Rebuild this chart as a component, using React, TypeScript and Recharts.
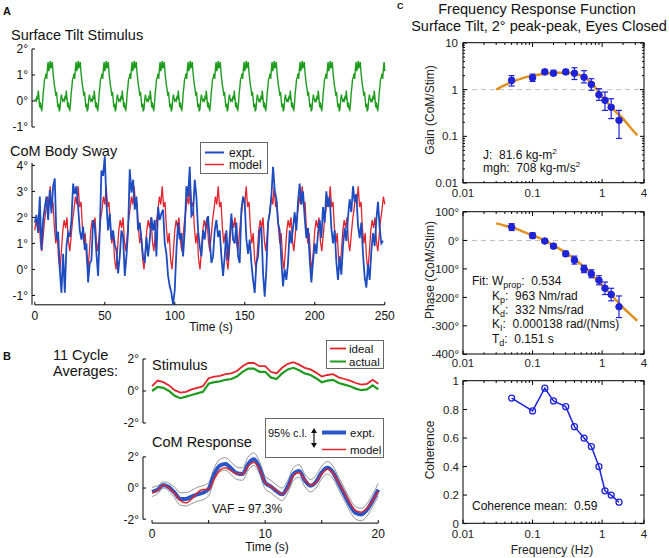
import React from 'react'
import { ComposedChart, Line, XAxis, YAxis, ReferenceLine, ErrorBar } from 'recharts'

const FONT = '"Liberation Sans", Arial, Helvetica, sans-serif'
const GREEN = '#1f9c1f'
const SWAY_BLUE = '#1d4cc0'
const RED = '#e3242b'
const PT_BLUE = '#1e22d8'
const ORANGE = '#e0901f'

// ---------- A: surface tilt stimulus, one 20 s cycle (deg, 0.5 s steps), repeats through 250 s
const STIM_STEP = 0.5
const STIM_END = 250
const STIM_CYCLE = [
  0.0, 0.05, 0.0, 0.15, 0.1, 0.4, 0.1, -0.25, -0.05, -0.3,
  -0.35, -0.1, 0.3, 0.55, 0.85, 0.9, 1.05, 0.85, 1.25, 1.5,
  1.15, 1.3, 1.55, 1.25, 1.4, 1.5, 1.1, 0.85, 0.6, 0.45,
  0.2, 0.35, 0.05, -0.25, -0.1, -0.4, -0.3, 0.05, 0.25, 0.1,
]
const STIM_TICKS_Y = [-1, 0, 1, 2]

// ---------- A: CoM body sway (deg)
const SWAY_STEP = 1.19
const SWAY_EXPT = [
  1.8, 2.1, 1.4, 2.8, 0.75, 1.9, 2.4, 2.8, 1.9, 3.05,
  2.15, 3.2, 3.5, 1.15, 1.45, 0.0, -0.9, 0.6, -0.9, 0.9,
  1.4, 1.25, 1.9, 3.3, 2.9, 3.2, 2.4, 1.5, 1.15, 1.65,
  0.75, 1.0, -0.5, 0.25, 0.35, 1.9, 1.65, 0.6, -0.25, 1.5,
  3.8, 3.6, 4.35, 2.55, 1.5, 2.15, 1.15, 1.5, 0.95, 0.75,
  -0.15, 0.5, 1.5, 1.25, -0.25, 0.5, 1.5, 3.85, 2.95, 3.45,
  2.3, 2.8, 1.5, 1.8, 1.15, 0.5, 0.25, 1.25, 0.5, 1.15,
  2.0, 1.5, 1.9, 0.5, 2.4, 1.9, 2.15, 2.3, 1.0, 0.6,
  -0.25, -0.65, -0.9, -1.35, -0.8, 0.75, 1.8, 1.15, 1.4, 0.5,
  1.5, 3.2, 2.8, 3.95, 2.05, 2.15, 3.45, 2.8, 1.5, 0.9,
  0.5, 1.5, 1.15, 1.8, 2.05, 1.15, 0.25, 0.5, 1.5, 1.9,
  1.25, 1.5, 0.5, -0.25, 0.5, 1.5, 0.35, 1.25, 2.15, 1.15,
  1.0, 1.8, 0.5, 0.25, 2.3, 2.8, 2.55, 1.15, 0.6, 1.15,
  0.25, -0.4, -0.9, 0.25, 0.5, 1.5, 1.65, -0.15, -1.05, 0.0,
  1.8, 2.15, 2.8, 3.95, 3.05, 2.7, 1.8, 1.5, 0.35, -0.65,
  0.0, -0.4, 0.25, 1.5, 1.0, 1.6, 2.2, 1.5, 2.6, 3.3,
  2.5, 3.0, 2.0, 1.2, 1.6, 0.4, -0.5, 0.3, 1.0, 0.6,
  1.4, 1.9, 1.2, 2.4, 1.8, 3.0, 2.4, 2.8, 1.6, 1.0,
  1.5, 0.3, -0.4, 0.5, -0.2, 0.9, 1.6, 1.1, 2.0, 2.7,
  2.2, 3.2, 2.6, 2.9, 1.7, 1.2, 1.8, 0.6, -0.3, -0.7,
  0.2, -0.4, 0.7, 1.4, 0.9, 1.9, 2.6, 1.6, 1.0, 1.1,
]
// model response to the periodic stimulus, one 20 s cycle at 1 s
const MODEL_STEP = 1
const MODEL_CYCLE = [1.5, 1.9, 1.6, 2.0, 1.1, 0.7, 1.3, 1.9, 2.3, 2.8, 2.5, 3.2, 2.4, 2.6, 1.6, 1.0, 1.4, 0.4, 0.0, 0.7]
const SWAY_TICKS_X = [0, 50, 100, 150, 200, 250]
const SWAY_TICKS_Y = [-1, 0, 1, 2, 3, 4]

// ---------- B: 11 cycle averages (0.5 s steps over 20 s)
const AVG_STEP = 0.5
const AVG_STIM_IDEAL = [
  0.3, 0.65, 0.55, 0.35, 0.05, -0.1, -0.05, 0.1, 0.2, 0.3,
  0.8, 0.9, 0.95, 1.05, 1.1, 1.25, 1.55, 1.75, 1.75, 1.55,
  1.55, 1.2, 1.1, 1.45, 1.7, 1.8, 1.65, 1.45, 1.35, 1.15,
  0.9, 1.0, 1.05, 0.85, 0.75, 0.65, 0.5, 0.4, 0.45, 0.7, 0.45,
]
const AVG_STIM_ACTUAL = [
  0.0, 0.25, 0.2, 0.0, -0.3, -0.45, -0.35, -0.25, -0.15, -0.05,
  0.45, 0.55, 0.6, 0.7, 0.75, 0.9, 1.2, 1.4, 1.4, 1.2,
  1.2, 0.85, 0.75, 1.1, 1.35, 1.45, 1.3, 1.1, 1.0, 0.8,
  0.55, 0.65, 0.7, 0.5, 0.4, 0.3, 0.15, 0.05, 0.1, 0.35, 0.1,
]
const AVG_COM_EXPT = [
  -0.25, -0.1, 0.2, 0.05, -0.3, -0.7, -0.7, -0.55, -0.4, -0.3,
  -0.05, 0.9, 1.45, 1.55, 1.25, 0.95, 0.9, 1.55, 1.85, 1.3,
  0.35, 0.1, -0.2, -0.4, 0.1, 0.9, 1.1, 0.5, 0.15, 0.4,
  1.0, 1.3, 1.0, 0.3, -0.4, -1.1, -1.6, -1.7, -1.4, -0.8, -0.1,
]
const AVG_COM_MODEL = [
  -0.3, -0.15, 0.2, 0.0, -0.35, -0.8, -0.95, -0.7, -0.3, -0.1,
  -0.1, 0.6, 1.15, 1.3, 1.1, 0.9, 0.9, 1.4, 1.65, 1.2,
  0.35, 0.1, -0.15, -0.4, 0.0, 0.8, 1.0, 0.55, 0.2, 0.35,
  0.9, 1.2, 0.95, 0.35, -0.3, -0.95, -1.45, -1.55, -1.3, -0.8, -0.2,
]
const AVG_COM_UPPER = [
  0.05, 0.15, 0.4, 0.3, 0.05, -0.3, -0.3, -0.15, 0.05, 0.15,
  0.35, 1.3, 1.85, 1.95, 1.65, 1.35, 1.3, 2.0, 2.25, 1.7,
  0.75, 0.5, 0.2, 0.0, 0.5, 1.3, 1.5, 0.9, 0.55, 0.8,
  1.4, 1.7, 1.4, 0.7, 0.0, -0.7, -1.2, -1.3, -1.0, -0.4, 0.3,
]
const AVG_COM_LOWER = [
  -0.55, -0.35, 0.0, -0.2, -0.65, -1.1, -1.15, -1.0, -0.85, -0.75,
  -0.5, 0.5, 1.05, 1.15, 0.85, 0.55, 0.5, 1.15, 1.45, 0.9,
  -0.05, -0.3, -0.6, -0.8, -0.3, 0.5, 0.7, 0.1, -0.25, 0.0,
  0.6, 0.9, 0.6, -0.1, -0.8, -1.5, -2.0, -2.1, -1.8, -1.2, -0.5,
]
const AVG_TICKS_Y = [-2, 0, 2]
const AVG_TICKS_X = [0, 5, 10, 15, 20]
const AVG_LABELLED_X = [0, 10, 20]

// ---------- C: frequency response function
const FREQS = [0.05, 0.1, 0.15, 0.2, 0.3, 0.4, 0.55, 0.7, 0.9, 1.1, 1.35, 1.75]
const GAIN = [1.58, 1.8, 2.4, 2.25, 2.4, 2.25, 1.85, 1.3, 0.78, 0.59, 0.42, 0.22]
const GAIN_LO = [1.2, 1.5, 2.2, 2.05, 2.15, 1.65, 1.4, 0.97, 0.59, 0.36, 0.24, 0.09]
const GAIN_HI = [2.0, 2.15, 2.7, 2.6, 2.7, 2.95, 2.55, 1.72, 1.05, 0.89, 0.64, 0.36]
const PHASE = [47, 17, -2, -20, -47, -69, -100, -117, -140, -168, -190, -233]
const PHASE_ERR = [12, 10, 6, 8, 9, 14, 13, 14, 16, 22, 22, 38]
const COHERENCE = [0.88, 0.79, 0.95, 0.86, 0.82, 0.68, 0.6, 0.54, 0.4, 0.23, 0.2, 0.15]
const FIT_FREQS = [0.03, 0.04, 0.05, 0.07, 0.1, 0.15, 0.2, 0.3, 0.4, 0.5, 0.6, 0.7, 0.8, 1.0, 1.2, 1.5, 2.0, 2.5, 3.2]
const FIT_GAIN = [1.0, 1.25, 1.45, 1.75, 2.0, 2.2, 2.3, 2.3, 2.2, 2.0, 1.7, 1.38, 1.1, 0.72, 0.52, 0.36, 0.24, 0.16, 0.105]
const FIT_PHASE = [60, 52, 47, 33, 18, 0, -17, -43, -65, -85, -102, -118, -132, -156, -177, -203, -236, -258, -282]
const FREQ_TICKS = [0.01, 0.02, 0.03, 0.04, 0.05, 0.06, 0.07, 0.08, 0.09, 0.1, 0.2, 0.3, 0.4, 0.5, 0.6, 0.7, 0.8, 0.9, 1, 2, 3, 4]
const FREQ_LABELS = ['0.01', '0.1', '1', '4']
const GAIN_TICKS = [
  0.01, 0.02, 0.03, 0.04, 0.05, 0.06, 0.07, 0.08, 0.09, 0.1, 0.2, 0.3, 0.4, 0.5, 0.6, 0.7, 0.8, 0.9, 1, 2, 3, 4, 5, 6, 7, 8, 9, 10,
]
const GAIN_LABELS = ['0.01', '0.1', '1', '10']
const PHASE_TICKS = [-400, -300, -200, -100, 0, 100]
const COH_TICKS = [0, 0.2, 0.4, 0.6, 0.8, 1]

// ---------- data tables
const tile = (cycle: number[], step: number, end: number) =>
  Array.from({ length: Math.round(end / step) + 1 }, (_, i) => ({ x: i * step, y: cycle[i % cycle.length] }))
const series = (vals: number[], step: number) => vals.map((y, i) => ({ x: i * step, y }))

const stimData = tile(STIM_CYCLE, STIM_STEP, STIM_END)
const modelData = tile(MODEL_CYCLE, MODEL_STEP, STIM_END)
const exptData = series(SWAY_EXPT, SWAY_STEP)
const idealData = series(AVG_STIM_IDEAL, AVG_STEP)
const actualData = series(AVG_STIM_ACTUAL, AVG_STEP)
const comExpt = series(AVG_COM_EXPT, AVG_STEP)
const comModel = series(AVG_COM_MODEL, AVG_STEP)
const comUpper = series(AVG_COM_UPPER, AVG_STEP)
const comLower = series(AVG_COM_LOWER, AVG_STEP)
const gainPts = FREQS.map((x, i) => ({ x, y: GAIN[i], e: [GAIN[i] - GAIN_LO[i], GAIN_HI[i] - GAIN[i]] }))
const phasePts = FREQS.map((x, i) => ({ x, y: PHASE[i], e: PHASE_ERR[i] }))
const cohPts = FREQS.map((x, i) => ({ x, y: COHERENCE[i] }))
const gainFit = FIT_FREQS.map((x, i) => ({ x, y: FIT_GAIN[i] }))
const phaseFit = FIT_FREQS.map((x, i) => ({ x, y: FIT_PHASE[i] }))

// ---------- ticks (drawn inward, Matlab style)
type TickOpt = { fs: number; len: number; gap?: number; base?: number; span?: number; color?: string; label: (v: number) => string | null }

const deg = (v: number) => `${v}°`
const fmtNum = (v: number) => String(+v.toFixed(3))
const pick = (list: string[]) => (v: number) => (list.includes(fmtNum(v)) ? fmtNum(v) : null)

const yTick = (o: TickOpt) => (p: any) => {
  const s = o.label(p.payload.value)
  const len = s === null ? o.len / 2 : o.len
  return (
    <g>
      <line x1={p.x} x2={p.x + len} y1={p.y} y2={p.y} stroke="#000" />
      {o.span ? <line x1={p.x + o.span} x2={p.x + o.span - len} y1={p.y} y2={p.y} stroke="#000" /> : null}
      {s ? (
        <text x={p.x - (o.gap ?? 4)} y={p.y + o.fs * 0.36} textAnchor="end" fontSize={o.fs} fill={o.color ?? '#111'} fontFamily={FONT}>
          {s}
        </text>
      ) : null}
    </g>
  )
}

const xTick = (o: TickOpt) => (p: any) => {
  const s = o.label(p.payload.value)
  const len = s === null ? o.len / 2 : o.len
  return (
    <g>
      <line x1={p.x} x2={p.x} y1={p.y} y2={p.y - len} stroke="#000" />
      {o.span ? <line x1={p.x} x2={p.x} y1={p.y - o.span} y2={p.y - o.span + len} stroke="#000" /> : null}
      {s ? (
        <text x={p.x} y={p.y + (o.base ?? 14)} textAnchor="middle" fontSize={o.fs} fill={o.color ?? '#111'} fontFamily={FONT}>
          {s}
        </text>
      ) : null}
    </g>
  )
}

// ---------- positioned chart
type Box = { l: number; t: number; w: number; h: number }
const MT = 6
const MR = 16
const MB = 10

function Panel({ box, yw, xh, children }: { box: Box; yw: number; xh: number; children: React.ReactNode }) {
  return (
    <div style={{ position: 'absolute', left: box.l - yw, top: box.t - MT }}>
      <ComposedChart
        width={yw + box.w + MR}
        height={MT + box.h + xh + MB}
        margin={{ top: MT, right: MR, bottom: MB, left: 0 }}
      >
        {children}
      </ComposedChart>
    </div>
  )
}

const BOX_A1 = { l: 32.2, t: 49, w: 352.8, h: 78 }
const BOX_A2 = { l: 32.2, t: 155.3, w: 352.8, h: 149.8 }
const BOX_B1 = { l: 142.7, t: 358.5, w: 235.3, h: 64 }
const BOX_B2 = { l: 142.7, t: 453, w: 235.3, h: 70.1 }
const BOX_C1 = { l: 463, t: 42.7, w: 181, h: 140 }
const BOX_C2 = { l: 463, t: 211.7, w: 181, h: 142.3 }
const BOX_C3 = { l: 463, t: 380.7, w: 181, h: 142.6 }

const axisCommon = { tickSize: 0, tickMargin: 0, tickLine: false, interval: 0 as const }

function StimulusA() {
  return (
    <Panel box={BOX_A1} yw={34} xh={0}>
      <XAxis type="number" dataKey="x" domain={[-2, 250]} hide />
      <YAxis type="number" domain={[-1, 2]} ticks={STIM_TICKS_Y} width={34} axisLine={{ stroke: '#000' }} {...axisCommon}
        tick={yTick({ fs: 12, len: 3, gap: 4, label: deg })} />
      <Line data={stimData} dataKey="y" stroke={GREEN} strokeWidth={1.4} dot={false} isAnimationActive={false} />
    </Panel>
  )
}

function SwayA() {
  return (
    <Panel box={BOX_A2} yw={34} xh={28}>
      <XAxis type="number" dataKey="x" domain={[-2, 250]} ticks={SWAY_TICKS_X} height={28} axisLine={false} {...axisCommon}
        tick={xTick({ fs: 12, len: 3, base: 15.5, label: (v) => String(v) })} />
      <YAxis type="number" domain={[-1.36, 4.4]} ticks={SWAY_TICKS_Y} width={34} axisLine={false} {...axisCommon}
        tick={yTick({ fs: 12, len: 3, gap: 4, label: deg })} />
      <ReferenceLine segment={[{ x: -2, y: -1.36 }, { x: -2, y: 4.1 }]} stroke="#000" />
      <ReferenceLine segment={[{ x: 0, y: -1.36 }, { x: 250, y: -1.36 }]} stroke="#000" />
      <Line data={modelData} dataKey="y" stroke={RED} strokeWidth={1.3} dot={false} isAnimationActive={false} />
      <Line data={exptData} dataKey="y" stroke={SWAY_BLUE} strokeWidth={1.8} dot={false} isAnimationActive={false} />
    </Panel>
  )
}

function StimAvgB() {
  return (
    <Panel box={BOX_B1} yw={34} xh={0}>
      <XAxis type="number" dataKey="x" domain={[-0.8, 20]} hide />
      <YAxis type="number" domain={[-2, 2]} ticks={AVG_TICKS_Y} width={34} axisLine={{ stroke: '#000' }} {...axisCommon}
        tick={yTick({ fs: 12, len: 3, gap: 4, label: deg })} />
      <Line data={idealData} dataKey="y" stroke={RED} strokeWidth={1.8} dot={false} isAnimationActive={false} />
      <Line data={actualData} dataKey="y" stroke={GREEN} strokeWidth={2.2} dot={false} isAnimationActive={false} />
    </Panel>
  )
}

function ComAvgB() {
  return (
    <Panel box={BOX_B2} yw={34} xh={30}>
      <XAxis type="number" dataKey="x" domain={[-0.8, 20]} ticks={AVG_TICKS_X} height={30} axisLine={false} {...axisCommon}
        tick={xTick({ fs: 12, len: 3, base: 15, label: (v) => (AVG_LABELLED_X.includes(v) ? String(v) : '') })} />
      <YAxis type="number" domain={[-2.25, 2]} ticks={AVG_TICKS_Y} width={34} axisLine={false} {...axisCommon}
        tick={yTick({ fs: 12, len: 3, gap: 4, label: deg })} />
      <ReferenceLine segment={[{ x: -0.8, y: -2 }, { x: -0.8, y: 2 }]} stroke="#000" />
      <ReferenceLine segment={[{ x: 0, y: -2.25 }, { x: 20, y: -2.25 }]} stroke="#000" />
      <Line data={comUpper} dataKey="y" type="monotone" stroke="#777" strokeWidth={0.8} dot={false} isAnimationActive={false} />
      <Line data={comLower} dataKey="y" type="monotone" stroke="#777" strokeWidth={0.8} dot={false} isAnimationActive={false} />
      <Line data={comExpt} dataKey="y" type="monotone" stroke="#2a55c6" strokeWidth={4} dot={false} isAnimationActive={false} />
      <Line data={comModel} dataKey="y" type="monotone" stroke={RED} strokeWidth={1.5} dot={false} isAnimationActive={false} />
    </Panel>
  )
}

const C_TICK = { fs: 11.5, len: 4, color: '#222' }

function GainC() {
  return (
    <Panel box={BOX_C1} yw={40} xh={22}>
      <XAxis type="number" dataKey="x" scale="log" domain={[0.01, 4]} allowDataOverflow ticks={FREQ_TICKS} height={22} axisLine={false} {...axisCommon}
        tick={xTick({ ...C_TICK, base: 14, span: BOX_C1.h, label: pick(FREQ_LABELS) })} />
      <YAxis type="number" scale="log" domain={[0.01, 10]} allowDataOverflow ticks={GAIN_TICKS} width={40} axisLine={false} {...axisCommon}
        tick={yTick({ ...C_TICK, gap: 5, span: BOX_C1.w, label: pick(GAIN_LABELS) })} />
      <ReferenceLine y={1} stroke="#bdbdbd" strokeDasharray="5 4" />
      <Line data={gainFit} dataKey="y" type="monotone" stroke={ORANGE} strokeWidth={2.5} dot={false} isAnimationActive={false} />
      <Line data={gainPts} dataKey="y" stroke="none" dot={{ r: 3.3, fill: PT_BLUE, stroke: PT_BLUE, strokeWidth: 1 }} isAnimationActive={false}>
        <ErrorBar dataKey="e" width={3} stroke={PT_BLUE} strokeWidth={1.2} direction="y" />
      </Line>
    </Panel>
  )
}

function PhaseC() {
  return (
    <Panel box={BOX_C2} yw={40} xh={22}>
      <XAxis type="number" dataKey="x" scale="log" domain={[0.01, 4]} allowDataOverflow ticks={FREQ_TICKS} height={22} axisLine={false} {...axisCommon}
        tick={xTick({ ...C_TICK, base: 13, span: BOX_C2.h, label: pick(FREQ_LABELS) })} />
      <YAxis type="number" domain={[-400, 100]} ticks={PHASE_TICKS} width={40} axisLine={false} {...axisCommon}
        tick={yTick({ ...C_TICK, gap: 4, span: BOX_C2.w, label: deg })} />
      <ReferenceLine y={0} stroke="#bdbdbd" strokeDasharray="5 4" />
      <Line data={phaseFit} dataKey="y" type="monotone" stroke={ORANGE} strokeWidth={2.5} dot={false} isAnimationActive={false} />
      <Line data={phasePts} dataKey="y" stroke="none" dot={{ r: 3.3, fill: PT_BLUE, stroke: PT_BLUE, strokeWidth: 1 }} isAnimationActive={false}>
        <ErrorBar dataKey="e" width={3} stroke={PT_BLUE} strokeWidth={1.2} direction="y" />
      </Line>
    </Panel>
  )
}

function CoherenceC() {
  return (
    <Panel box={BOX_C3} yw={40} xh={22}>
      <XAxis type="number" dataKey="x" scale="log" domain={[0.01, 4]} allowDataOverflow ticks={FREQ_TICKS} height={22} axisLine={false} {...axisCommon}
        tick={xTick({ ...C_TICK, base: 14, span: BOX_C3.h, label: pick(FREQ_LABELS) })} />
      <YAxis type="number" domain={[0, 1]} ticks={COH_TICKS} width={40} axisLine={false} {...axisCommon}
        tick={yTick({ ...C_TICK, gap: 4, span: BOX_C3.w, label: (v) => String(v) })} />
      <Line data={cohPts} dataKey="y" stroke={PT_BLUE} strokeWidth={1.5} dot={{ r: 3, fill: 'none', stroke: PT_BLUE, strokeWidth: 1.3 }} isAnimationActive={false} />
    </Panel>
  )
}

const NB = '\u00a0'

function Overlay() {
  const boxes = [BOX_C1, BOX_C2, BOX_C3]
  return (
    <svg width={669} height={558} style={{ position: 'absolute', left: 0, top: 0, pointerEvents: 'none' }} fontFamily={FONT} fill="#111">
      <text x={3} y={15} fontSize={11} fontWeight="bold">A</text>
      <text x={3} y={360} fontSize={11} fontWeight="bold">B</text>
      <text x={397} y={9} fontSize={9} fontWeight="bold">C</text>

      <text x={11} y={40} fontSize={14.5}>Surface Tilt Stimulus</text>
      <text x={10} y={155.5} fontSize={14.5}>CoM Body Sway</text>
      <text x={211} y={331} fontSize={12} textAnchor="middle">Time (s)</text>

      <rect x={200.5} y={142.5} width={67} height={31} fill="#fff" stroke="#666" />
      <line x1={205} x2={224} y1={152.5} y2={152.5} stroke={SWAY_BLUE} strokeWidth={2} />
      <text x={229} y={157} fontSize={12}>expt.</text>
      <line x1={205} x2={224} y1={164.5} y2={164.5} stroke={RED} strokeWidth={1.5} />
      <text x={229} y={168.5} fontSize={12}>model</text>

      <text x={53} y={359.5} fontSize={14.5}>11 Cycle</text>
      <text x={53} y={375.5} fontSize={14.5}>Averages:</text>
      <text x={152} y={370} fontSize={14.5}>Stimulus</text>
      <text x={152} y={446.5} fontSize={14.5}>CoM Response</text>
      <text x={212} y={512.5} fontSize={12}>VAF = 97.3%</text>
      <text x={267} y={551} fontSize={12} textAnchor="middle">Time (s)</text>

      <rect x={326.5} y={340.5} width={57} height={28} fill="#fff" stroke="#666" />
      <line x1={330} x2={346} y1={348.5} y2={348.5} stroke={RED} strokeWidth={1.8} />
      <text x={349} y={353} fontSize={11.5}>ideal</text>
      <line x1={330} x2={346} y1={361.5} y2={361.5} stroke={GREEN} strokeWidth={2} />
      <text x={349} y={366} fontSize={11.5}>actual</text>

      <rect x={265.5} y={418.5} width={118} height={39} fill="#fff" stroke="#666" />
      <text x={268} y={437} fontSize={11}>95% c.l.</text>
      <line x1={314} x2={314} y1={431} y2={445} stroke="#111" strokeWidth={1.2} />
      <path d="M311,433 L314,428 L317,433 Z M311,443 L314,448 L317,443 Z" fill="#111" />
      <line x1={322} x2={346} y1={432.5} y2={432.5} stroke="#2a55c6" strokeWidth={4} />
      <text x={350} y={437} fontSize={11.5}>expt.</text>
      <line x1={322} x2={346} y1={449.5} y2={449.5} stroke={RED} strokeWidth={1.5} />
      <text x={350} y={454} fontSize={11.5}>model</text>

      <text x={537} y={14} fontSize={14.5} textAnchor="middle">Frequency Response Function</text>
      <text x={539} y={31} fontSize={14.5} textAnchor="middle">Surface Tilt, 2° peak-peak, Eyes Closed</text>

      {boxes.map((b, i) => (
        <rect key={i} x={b.l} y={b.t} width={b.w} height={b.h} fill="none" stroke="#000" strokeWidth={1} />
      ))}

      <text transform="translate(434,110) rotate(-90)" fontSize={12} textAnchor="middle" fill="#222">Gain (CoM/Stim)</text>
      <text transform="translate(434,270) rotate(-90)" fontSize={12} textAnchor="middle" fill="#222">Phase (CoM/Stim)</text>
      <text transform="translate(434,450) rotate(-90)" fontSize={12} textAnchor="middle" fill="#222">Coherence</text>
      <text x={552} y={553.5} fontSize={12} textAnchor="middle" fill="#222">Frequency (Hz)</text>

      <text x={483} y={158.5} fontSize={12}>
        {`J:${NB} 81.6 kg-m`}<tspan dy={-5} fontSize={8}>2</tspan>
      </text>
      <text x={483} y={172} fontSize={12}>
        {`mgh:${NB} 708 kg-m/s`}<tspan dy={-5} fontSize={8}>2</tspan>
      </text>

      <text x={472} y={285} fontSize={12}>
        Fit: W<tspan dy={3} fontSize={9}>prop</tspan><tspan dy={-3}>{`:${NB} 0.534`}</tspan>
      </text>
      <text x={492} y={299.5} fontSize={12}>
        K<tspan dy={3} fontSize={9}>p</tspan><tspan dy={-3}>{`:${NB} 963 Nm/rad`}</tspan>
      </text>
      <text x={492} y={313.5} fontSize={12}>
        K<tspan dy={3} fontSize={9}>d</tspan><tspan dy={-3}>{`:${NB} 332 Nms/rad`}</tspan>
      </text>
      <text x={492} y={328} fontSize={12}>
        K<tspan dy={3} fontSize={9}>I</tspan><tspan dy={-3}>{`:${NB} 0.000138 rad/(Nms)`}</tspan>
      </text>
      <text x={492} y={342.5} fontSize={12}>
        T<tspan dy={3} fontSize={9}>d</tspan><tspan dy={-3}>{`:${NB} 0.151 s`}</tspan>
      </text>

      <text x={472} y={509.5} fontSize={12}>{`Coherence mean:${NB} 0.59`}</text>
    </svg>
  )
}

export default function App() {
  return (
    <div style={{ position: 'absolute', left: 0, top: 0, width: 669, height: 558, background: '#fff', overflow: 'hidden', fontFamily: FONT }}>
      <StimulusA />
      <SwayA />
      <StimAvgB />
      <ComAvgB />
      <GainC />
      <PhaseC />
      <CoherenceC />
      <Overlay />
    </div>
  )
}
